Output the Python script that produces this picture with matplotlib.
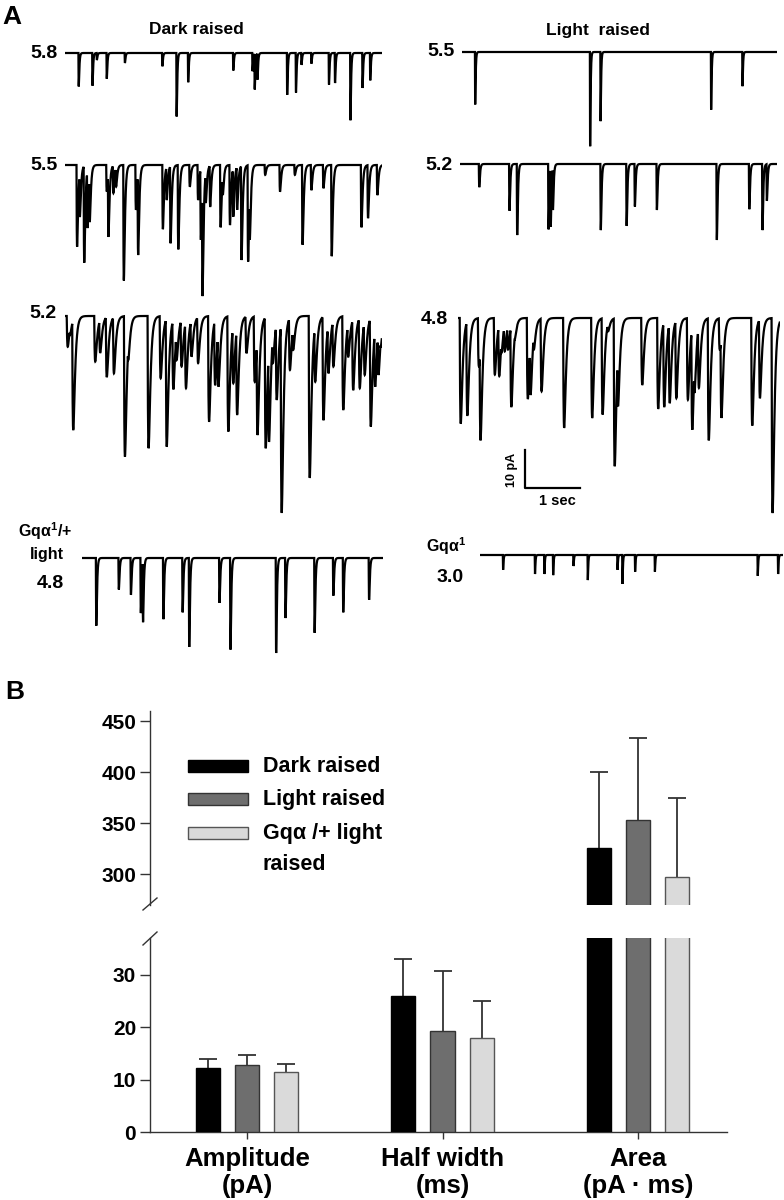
import numpy as np
import matplotlib
matplotlib.use('Agg')
import matplotlib.pyplot as plt
from matplotlib.patches import Rectangle
from matplotlib.lines import Line2D

plt.rcParams['font.family'] = ['Liberation Sans', 'DejaVu Sans']
plt.rcParams['font.weight'] = 'bold'
plt.rcParams['mathtext.fontset'] = 'custom'
plt.rcParams['mathtext.rm'] = 'Liberation Sans:bold'
plt.rcParams['mathtext.bf'] = 'Liberation Sans:bold'
plt.rcParams['mathtext.it'] = 'Liberation Sans:bold'

# ---------------- Panel A data: event times (s) and amplitudes (pA) ----------------
dark58_t = [0.25, 0.50, 0.58, 0.76, 1.09, 1.77, 2.03, 2.24, 3.06, 3.41, 3.45, 3.50, 4.04, 4.20,
            4.30, 4.48, 4.80, 4.91, 5.19, 5.41, 5.55]
dark58_a = [8.8, 8.6, 1.8, 6.8, 2.6, 3.5, 16.7, 7.7, 4.6, 4.8, 9.6, 7.0, 11.0, 10.4,
            3.1, 2.8, 8.3, 7.9, 17.7, 9.2, 7.2]

dark55_t = [0.22, 0.27, 0.35, 0.41, 0.45, 0.76, 0.79, 0.88, 0.93, 1.07, 1.29, 1.33, 1.78, 1.85,
            1.92, 2.06, 2.27, 2.42, 2.47, 2.50, 2.56, 2.64, 2.83, 2.87, 3.00, 3.06, 3.13, 3.21,
            3.33, 3.36, 3.64, 3.91, 4.18, 4.32, 4.48, 4.70, 4.85, 5.39, 5.51, 5.68]
dark55_a = [21.5, 13.7, 25.7, 16.6, 15.0, 7.0, 18.9, 7.4, 5.7, 30.4, 11.8, 23.7, 16.9, 9.2,
            20.6, 22.2, 5.7, 9.2, 19.7, 34.5, 10.0, 11.0, 16.4, 7.9, 15.8, 13.6, 11.8, 25.0,
            25.4, 19.7, 2.6, 7.0, 2.6, 21.0, 6.6, 6.1, 24.0, 16.4, 14.0, 7.9]

dark52_t = [0.05, 0.09, 0.15, 0.55, 0.64, 0.76, 0.89, 1.09, 1.15, 1.52, 1.74, 1.85, 1.97, 2.03,
            2.12, 2.20, 2.30, 2.42, 2.62, 2.73, 2.79, 2.97, 3.06, 3.13, 3.30, 3.45, 3.50, 3.65,
            3.71, 3.78, 3.85, 3.94, 4.00, 4.09, 4.15, 4.45, 4.55, 4.70, 4.79, 4.88, 5.06, 5.15,
            5.24, 5.36, 5.45, 5.56, 5.64, 5.70, 5.74]
dark52_a = [8.1, 5.0, 30.0, 12.0, 9.7, 16.1, 15.1, 37.0, 11.6, 34.8, 16.4, 34.4, 19.3, 11.6,
            13.3, 19.0, 10.7, 12.4, 27.8, 18.2, 18.6, 30.4, 17.7, 26.0, 9.8, 17.3, 31.3, 34.8,
            33.1, 12.4, 22.1, 51.8, 5.4, 14.2, 8.9, 42.6, 17.3, 27.4, 15.1, 13.3, 24.7, 10.7,
            19.5, 19.0, 15.5, 29.1, 18.6, 15.5, 8.1]

gqhet48_t = [0.26, 0.67, 0.89, 1.07, 1.11, 1.48, 1.83, 1.95, 2.50, 2.70, 3.53, 3.70, 4.23,
             4.57, 4.75, 5.22]
gqhet48_a = [17.8, 8.3, 9.7, 14.5, 16.9, 16.1, 14.3, 23.4, 11.8, 24.1, 25.0, 15.8, 19.7,
             9.9, 14.3, 11.0]

light55_t = [0.24, 2.33, 2.52, 4.53, 5.10]
light55_a = [13.8, 24.8, 18.2, 15.2, 9.0]

light52_t = [0.35, 0.90, 1.04, 1.61, 1.65, 1.69, 2.56, 3.03, 3.18, 3.58, 4.67, 5.26, 5.50, 5.58]
light52_a = [6.1, 12.3, 18.7, 17.2, 16.5, 12.1, 17.4, 16.3, 11.2, 12.1, 20.0, 11.9, 17.4, 9.7]

light48_t = [0.05, 0.17, 0.38, 0.41, 0.67, 0.75, 0.79, 0.85, 0.91, 0.97, 1.03, 1.27, 1.32,
             1.38, 1.52, 1.93, 2.44, 2.63, 2.73, 2.85, 2.91, 3.35, 3.64, 3.75, 3.85, 3.97,
             4.18, 4.26, 4.30, 4.38, 4.56, 4.76, 4.79, 5.35, 5.49, 5.72]
light48_a = [27.8, 25.7, 12.7, 32.2, 14.9, 15.3, 9.2, 8.8, 8.3, 23.4, 5.7, 21.3, 20.2,
             8.3, 19.3, 28.9, 26.3, 25.4, 3.5, 39.0, 23.2, 17.6, 23.9, 23.4, 22.4, 21.1,
             21.5, 29.4, 19.7, 18.4, 32.2, 8.3, 26.3, 28.3, 21.1, 51.3]

gqnull30_t = [0.42, 1.00, 1.17, 1.33, 1.70, 1.96, 2.50, 2.59, 2.82, 3.18, 5.05, 5.42]
gqnull30_a = [3.9, 5.0, 5.0, 5.3, 2.9, 6.6, 3.9, 7.6, 4.4, 4.4, 5.5, 5.0]

trace_durations = [5.76, 5.76, 5.76, 5.48, 5.73, 5.76, 5.85, 5.51]  # seconds

# ---------------- Panel B data ----------------
categories = ['Amplitude\n(pA)', 'Half width\n(ms)', 'Area\n(pA · ms)']
group_names = ['Dark raised', 'Light raised', 'Gqα /+ light']
dark_mean = [12.2, 26.0, 326]
dark_sem = [1.8, 7.0, 74]
light_mean = [12.8, 19.3, 353]
light_sem = [1.9, 11.4, 81]
gq_mean = [11.5, 18.0, 297]
gq_sem = [1.5, 7.0, 78]
upper_ticks = [300, 350, 400, 450]
lower_ticks = [0, 10, 20, 30]

# ---------------- figure ----------------
W, H = 784, 1200
fig = plt.figure(figsize=(7.84, 12), dpi=100)


def fx(px):
    return px / W


def fy(py):
    return 1 - py / H


PX_PER_S = 55.0
PX_PER_PA = 3.8


def render(times, amps, dur, tau_r, tau_d):
    t = np.arange(0, dur, 0.001)
    s_grid = np.linspace(0, 0.5, 5001)
    kern = (1 - np.exp(-s_grid / tau_r)) * np.exp(-s_grid / tau_d)
    s_peak = s_grid[np.argmax(kern)]
    peak = kern.max()
    y = np.zeros_like(t)
    for tk, ak in zip(times, amps):
        s = np.clip(t - tk + s_peak, 0, None)
        k = np.where(t - tk + s_peak > 0,
                     (1 - np.exp(-s / tau_r)) * np.exp(-s / tau_d), 0.0) / peak
        y = np.minimum(y, -ak * k)
    return t, y


traces = [
    (dark58_t, dark58_a), (dark55_t, dark55_a), (dark52_t, dark52_a), (gqhet48_t, gqhet48_a),
    (light55_t, light55_a), (light52_t, light52_a), (light48_t, light48_a), (gqnull30_t, gqnull30_a),
]
# layout: (left px, baseline px, rise tau, decay tau)
layout = [(65, 53, 0.006, 0.01), (65, 165, 0.012, 0.018), (65, 316, 0.022, 0.03),
          (82, 558, 0.008, 0.012), (462, 52, 0.005, 0.008), (460, 164, 0.008, 0.012),
          (458, 318, 0.022, 0.03), (480, 555, 0.005, 0.007)]

trace_axes = []
for (tt, aa), dur, (x0, yb, tr, td) in zip(traces, trace_durations, layout):
    above, below = 8, 215
    ax = fig.add_axes([fx(x0), fy(yb + below), dur * PX_PER_S / W, (above + below) / H])
    t, y = render(tt, aa, dur, tr, td)
    ax.plot(t, y, color='black', lw=1.6, solid_joinstyle='miter')
    ax.set_xlim(0, dur)
    ax.set_ylim(-below / PX_PER_PA, above / PX_PER_PA)
    ax.axis('off')
    trace_axes.append(ax)

# scale bar on the 4.8 light-raised trace (1 s, 10 pA)
axs = trace_axes[6]
bx, by = (525 - 458) / PX_PER_S, -(488 - 318) / PX_PER_PA
axs.plot([bx, bx, bx + 1.0], [by + 10, by, by], color='black', lw=1.6, clip_on=False)
fig.text(fx(512), fy(470), '10 pA', rotation=90, ha='center', va='center', fontsize=9)
fig.text(fx(557), fy(501), '1 sec', ha='center', va='center', fontsize=10.5)

# panel A labels
fig.text(fx(2), fy(17), 'A', fontsize=19, ha='left', va='center')
fig.text(fx(196), fy(30), 'Dark raised', fontsize=12.5, ha='center', va='center')
fig.text(fx(598), fy(30), 'Light  raised', fontsize=12.5, ha='center', va='center')
lab_kw = dict(fontsize=14, ha='right', va='center')
fig.text(fx(58), fy(53), '5.8', **lab_kw)
fig.text(fx(58), fy(165), '5.5', **lab_kw)
fig.text(fx(57), fy(314), '5.2', **lab_kw)
fig.text(fx(455), fy(52), '5.5', **lab_kw)
fig.text(fx(453), fy(165), '5.2', **lab_kw)
fig.text(fx(448), fy(319), '4.8', **lab_kw)
fig.text(fx(45), fy(531), r'Gq$\alpha^{1}$/+', fontsize=11.5, ha='center', va='center')
fig.text(fx(47), fy(555), 'light', fontsize=11.5, ha='center', va='center')
fig.text(fx(50), fy(583), '4.8', fontsize=14, ha='center', va='center')
fig.text(fx(446), fy(546), r'Gq$\alpha^{1}$', fontsize=11.5, ha='center', va='center')
fig.text(fx(450), fy(577), '3.0', fontsize=14, ha='center', va='center')

# ---------------- Panel B ----------------
fig.text(fx(5), fy(692), 'B', fontsize=19, ha='left', va='center')

left, right = 150, 727
up_top, up_bot = 711, 905
lo_top, lo_bot = 938, 1132
ax_up = fig.add_axes([fx(left), fy(up_bot), (right - left) / W, (up_bot - up_top) / H])
ax_lo = fig.add_axes([fx(left), fy(lo_bot), (right - left) / W, (lo_bot - lo_top) / H])

x = np.arange(len(categories))
offs = 0.2
bw = 0.123
series = [
    (dark_mean, dark_sem, 'black', 'black'),
    (light_mean, light_sem, '#6e6e6e', '#333333'),
    (gq_mean, gq_sem, '#dadada', '#555555'),
]
spine_c = '#333333'
for ax in (ax_up, ax_lo):
    for i, (m, e, fc, ec) in enumerate(series):
        xi = x + (i - 1) * offs
        ax.bar(xi, m, width=bw, color=fc, edgecolor=ec, linewidth=1.0, zorder=3)
        eb = ax.errorbar(xi, m, yerr=[np.zeros(len(m)), e], fmt='none', ecolor='#333333',
                         elinewidth=1.3, capsize=6.5, capthick=1.3, zorder=2)
        eb[1][0].set_visible(False)
    ax.set_xlim(-0.496, 2.455)
    for s in ('top', 'right'):
        ax.spines[s].set_visible(False)
    ax.spines['left'].set_color(spine_c)
    ax.spines['left'].set_linewidth(1.0)
    ax.tick_params(axis='y', length=7, width=1, color=spine_c, labelsize=15, pad=3)
    ax.patch.set_alpha(0)

ax_up.set_ylim(270, 460)
ax_up.set_yticks(upper_ticks)
ax_up.spines['bottom'].set_visible(False)
ax_up.set_xticks([])

ax_lo.set_ylim(0, 37)
ax_lo.set_yticks(lower_ticks)
ax_lo.spines['bottom'].set_color(spine_c)
ax_lo.spines['bottom'].set_linewidth(1.0)
ax_lo.set_xticks(x)
ax_lo.set_xticklabels(categories, fontsize=18.5, linespacing=1.15)
ax_lo.tick_params(axis='x', length=5, width=1, color=spine_c, pad=6)

# axis break marks
for (x1, y1, x2, y2) in [(143, 910, 157, 898), (143, 945, 157, 932)]:
    fig.add_artist(Line2D([fx(x1), fx(x2)], [fy(y1), fy(y2)], color=spine_c, lw=1.0))

# legend
leg_rows = [766, 799, 833]
for (m, e, fc, ec), name, yr in zip(series, group_names, leg_rows):
    fig.add_artist(Rectangle((fx(188), fy(yr + 6)), 60 / W, 12 / H, facecolor=fc,
                             edgecolor=ec, lw=1.0, transform=fig.transFigure))
    fig.text(fx(263), fy(yr), name, fontsize=15.5, ha='left', va='center')
fig.text(fx(263), fy(864), 'raised', fontsize=15.5, ha='left', va='center')

fig.savefig('out.png', dpi=100)
